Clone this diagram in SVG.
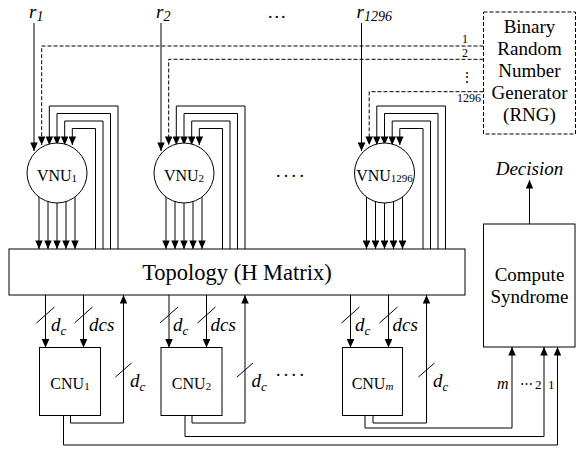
<svg xmlns="http://www.w3.org/2000/svg" width="576" height="451" viewBox="0 0 576 451">
<defs>
<style>
text{font-family:"Liberation Serif","DejaVu Serif",serif;fill:#000}
.ln{fill:none;stroke:#000;stroke-width:1}
.da{fill:none;stroke:#000;stroke-width:1;stroke-dasharray:4 2}
.ar{marker-end:url(#ah)}
.box{fill:#fff;stroke:#000;stroke-width:1}
.dbox{fill:#fff;stroke:#000;stroke-width:1;stroke-dasharray:4 2}
.it{font-style:italic}
.node{font-size:16px;text-anchor:middle}
.sub{font-size:11px}
.big{font-size:19px}
.sm{font-size:12px}
</style>
<marker id="ah" viewBox="0 0 9 8" refX="9" refY="4" markerWidth="9" markerHeight="7.5" markerUnits="userSpaceOnUse" orient="auto">
<path d="M0,0 L9,4 L0,8 z" fill="#000"/>
</marker>
</defs>
<rect width="576" height="451" fill="#fff"/>

<g id="connectors">
<!-- r inputs -->
<path class="ln ar" d="M34,23 V151"/>
<path class="ln ar" d="M161,23 V151"/>
<path class="ln ar" d="M361.5,23 V151"/>
<!-- RNG dashed -->
<path class="da ar" d="M483.5,46 H41.7 V145"/>
<path class="da ar" d="M483.5,59.3 H168.7 V145"/>
<path class="da ar" d="M483.5,91.7 H369.2 V145"/>
<!-- VNU1 loops -->
<path class="ln ar" d="M118,249 V106 H49.3 V145"/>
<path class="ln ar" d="M110.5,249 V113.5 H57 V145"/>
<path class="ln ar" d="M103,249 V121 H64.7 V145"/>
<path class="ln ar" d="M95.5,249 V128.5 H72.3 V145"/>
<!-- VNU2 loops -->
<path class="ln ar" d="M245,249 V106 H176.3 V145"/>
<path class="ln ar" d="M237.5,249 V113.5 H184 V145"/>
<path class="ln ar" d="M230,249 V121 H191.7 V145"/>
<path class="ln ar" d="M222.5,249 V128.5 H199.3 V145"/>
<!-- VNU1296 loops -->
<path class="ln ar" d="M445.5,249 V106 H376.8 V145"/>
<path class="ln ar" d="M438,249 V113.5 H384.5 V145"/>
<path class="ln ar" d="M430.5,249 V121 H392.2 V145"/>
<path class="ln ar" d="M423,249 V128.5 H399.8 V145"/>
<!-- VNU outputs -->
<path class="ln ar" d="M39,197 V249"/>
<path class="ln ar" d="M48,201.6 V249"/>
<path class="ln ar" d="M57,203 V249"/>
<path class="ln ar" d="M66,201.6 V249"/>
<path class="ln ar" d="M75,197 V249"/>
<path class="ln ar" d="M166,197 V249"/>
<path class="ln ar" d="M175,201.6 V249"/>
<path class="ln ar" d="M184,203 V249"/>
<path class="ln ar" d="M193,201.6 V249"/>
<path class="ln ar" d="M202,197 V249"/>
<path class="ln ar" d="M366.5,197 V249"/>
<path class="ln ar" d="M375.5,201.6 V249"/>
<path class="ln ar" d="M384.5,203 V249"/>
<path class="ln ar" d="M393.5,201.6 V249"/>
<path class="ln ar" d="M402.5,197 V249"/>
<!-- Topology to CNUs -->
<path class="ln ar" d="M45.5,295 V347.5"/>
<path class="ln ar" d="M83.5,295 V347.5"/>
<path class="ln ar" d="M169,295 V347.5"/>
<path class="ln ar" d="M206.5,295 V347.5"/>
<path class="ln ar" d="M350.5,295 V347.5"/>
<path class="ln ar" d="M388.5,295 V347.5"/>
<!-- CNU feedback to topology -->
<path class="ln ar" d="M70.5,415.5 V423 H123.5 V295"/>
<path class="ln ar" d="M192,415.5 V423 H245 V295"/>
<path class="ln ar" d="M373,415.5 V423 H426.5 V295"/>
<!-- CNU to syndrome -->
<path class="ln ar" d="M63.5,415.5 V445 H557.5 V347"/>
<path class="ln ar" d="M185,415.5 V436.5 H544 V347"/>
<path class="ln ar" d="M365,415.5 V428 H512 V347"/>
<!-- Decision -->
<path class="ln ar" d="M529.5,224 V180"/>
<!-- bus slashes -->
<path class="ln" d="M36.5,323 L54.5,307 M74.5,323 L92.5,307 M160,323 L178,307 M197.5,323 L215.5,307 M341.5,323 L359.5,307 M379.5,323 L397.5,307"/>
<path class="ln" d="M115.5,377 L131.5,363 M237,377 L253,363 M418.5,377 L434.5,363"/>
</g>

<!-- connector labels -->
<g id="labels">
<text class="it" x="29" y="17.5" font-size="19">r<tspan dy="3" font-size="14">1</tspan></text>
<text class="it" x="156" y="17.5" font-size="19">r<tspan dy="3" font-size="14">2</tspan></text>
<text class="it" x="356.5" y="17.5" font-size="19">r<tspan dy="3" font-size="14">1296</tspan></text>
<text x="268" y="18" font-size="18" letter-spacing="2">...</text>
<text x="465" y="43" class="sm" text-anchor="middle">1</text>
<text x="465" y="57" class="sm" text-anchor="middle">2</text>
<text x="467" y="82" font-size="14" text-anchor="middle">⋮</text>
<text x="481" y="102" class="sm" text-anchor="end">1296</text>
<text x="276" y="177" font-size="18" letter-spacing="3.3">....</text>
<text x="276" y="376" font-size="18" letter-spacing="3.3">....</text>
<text class="it big" x="51" y="331">d<tspan dy="4" font-size="13">c</tspan></text>
<text class="it big" x="89" y="331">dcs</text>
<text class="it big" x="173" y="331">d<tspan dy="4" font-size="13">c</tspan></text>
<text class="it big" x="210.5" y="331">dcs</text>
<text class="it big" x="355" y="331">d<tspan dy="4" font-size="13">c</tspan></text>
<text class="it big" x="392.5" y="331">dcs</text>
<text class="it big" x="130" y="387">d<tspan dy="4" font-size="13">c</tspan></text>
<text class="it big" x="251.5" y="387">d<tspan dy="4" font-size="13">c</tspan></text>
<text class="it big" x="433" y="387">d<tspan dy="4" font-size="13">c</tspan></text>
<text class="it" x="497" y="389" font-size="16">m</text>
<text x="520" y="388" font-size="13">⋯</text>
<text x="535" y="389" font-size="13">2</text>
<text x="548" y="389" font-size="13">1</text>
<text class="it big" x="529.5" y="175" text-anchor="middle">Decision</text>
</g>

<g id="VNU1">
<circle class="box" cx="57" cy="173" r="30"/>
<text class="node" x="57" y="181">VNU<tspan class="sub" dy="1">1</tspan></text>
</g>
<g id="VNU2">
<circle class="box" cx="184" cy="173" r="30"/>
<text class="node" x="184" y="181">VNU<tspan class="sub" dy="1">2</tspan></text>
</g>
<g id="VNU1296">
<circle class="box" cx="384.5" cy="173" r="30"/>
<text class="node" x="384.5" y="181">VNU<tspan class="sub" dy="1">1296</tspan></text>
</g>

<g id="topology">
<rect class="box" x="9" y="249" width="456" height="46"/>
<text x="237" y="279.5" font-size="22.5" text-anchor="middle">Topology (H Matrix)</text>
</g>

<g id="CNU1">
<rect class="box" x="39.5" y="347.5" width="61" height="68"/>
<text class="node" x="70" y="389">CNU<tspan class="sub" dy="1">1</tspan></text>
</g>
<g id="CNU2">
<rect class="box" x="161" y="347.5" width="61" height="68"/>
<text class="node" x="191.5" y="389">CNU<tspan class="sub" dy="1">2</tspan></text>
</g>
<g id="CNUm">
<rect class="box" x="342.5" y="347.5" width="60" height="68"/>
<text class="node" x="372.5" y="389">CNU<tspan class="sub it" dy="1">m</tspan></text>
</g>

<g id="syndrome">
<rect class="box" x="483.5" y="224" width="91.5" height="123"/>
<text class="big" x="529.5" y="281" text-anchor="middle">Compute</text>
<text class="big" x="529.5" y="303" text-anchor="middle">Syndrome</text>
</g>

<g id="RNG">
<rect class="dbox" x="483.5" y="12" width="92" height="122"/>
<text class="big" x="529.5" y="32.5" text-anchor="middle">Binary</text>
<text class="big" x="529.5" y="54.5" text-anchor="middle">Random</text>
<text class="big" x="529.5" y="76.5" text-anchor="middle">Number</text>
<text class="big" x="529.5" y="98.5" text-anchor="middle">Generator</text>
<text class="big" x="529.5" y="120.5" text-anchor="middle">(RNG)</text>
</g>
</svg>
